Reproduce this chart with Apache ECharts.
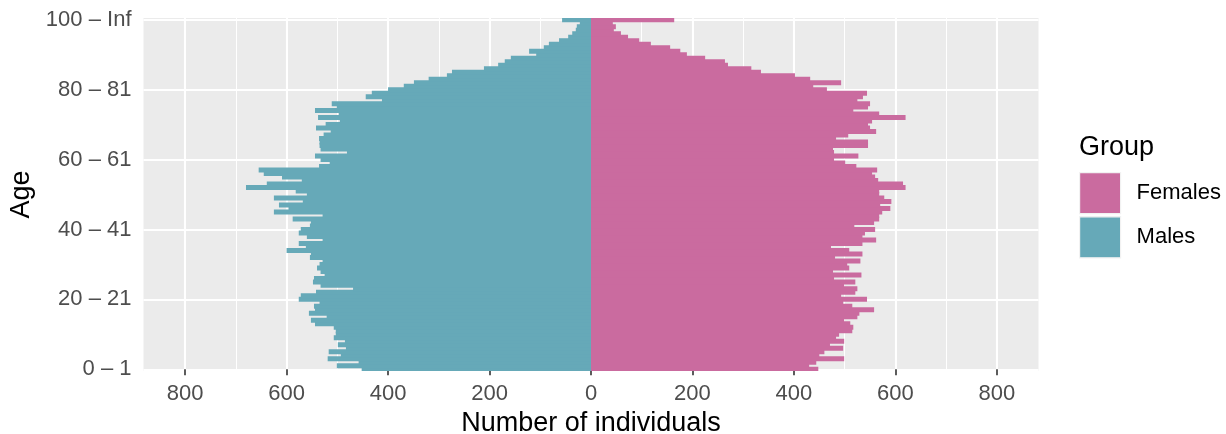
<!DOCTYPE html>
<html>
<head>
<meta charset="utf-8">
<script src="https://cdn.jsdelivr.net/npm/echarts@6/dist/echarts.min.js"></script>
<style>
html,body{margin:0;padding:0;background:#fff;}
#chart{width:1226px;height:434px;}
</style>
</head>
<body>
<div id="chart"></div>
<script>
// Age groups (bottom to top)
const ageGroups = [
  "0 – 1","1 – 2","2 – 3","3 – 4","4 – 5","5 – 6","6 – 7","7 – 8","8 – 9","9 – 10",
  "10 – 11","11 – 12","12 – 13","13 – 14","14 – 15","15 – 16","16 – 17","17 – 18","18 – 19","19 – 20",
  "20 – 21","21 – 22","22 – 23","23 – 24","24 – 25","25 – 26","26 – 27","27 – 28","28 – 29","29 – 30",
  "30 – 31","31 – 32","32 – 33","33 – 34","34 – 35","35 – 36","36 – 37","37 – 38","38 – 39","39 – 40",
  "40 – 41","41 – 42","42 – 43","43 – 44","44 – 45","45 – 46","46 – 47","47 – 48","48 – 49","49 – 50",
  "50 – 51","51 – 52","52 – 53","53 – 54","54 – 55","55 – 56","56 – 57","57 – 58","58 – 59","59 – 60",
  "60 – 61","61 – 62","62 – 63","63 – 64","64 – 65","65 – 66","66 – 67","67 – 68","68 – 69","69 – 70",
  "70 – 71","71 – 72","72 – 73","73 – 74","74 – 75","75 – 76","76 – 77","77 – 78","78 – 79","79 – 80",
  "80 – 81","81 – 82","82 – 83","83 – 84","84 – 85","85 – 86","86 – 87","87 – 88","88 – 89","89 – 90",
  "90 – 91","91 – 92","92 – 93","93 – 94","94 – 95","95 – 96","96 – 97","97 – 98","98 – 99","99 – 100",
  "100 – Inf"
];

// Number of males per age group
const males = [
  452, 501, 458, 519, 493, 517, 483, 499, 485, 507,
  503, 503, 507, 544, 552, 521, 556, 544, 546, 535,
  576, 572, 542, 469, 533, 548, 546, 525, 533, 540,
  535, 529, 554, 552, 600, 562, 576, 529, 560, 576,
  572, 554, 552, 588, 529, 625, 596, 615, 568, 625,
  560, 582, 680, 639, 570, 609, 645, 655, 536, 515,
  533, 544, 481, 533, 535, 535, 536, 527, 513, 542,
  523, 495, 538, 497, 544, 501, 511, 412, 444, 432,
  400, 369, 349, 320, 284, 274, 211, 183, 170, 158,
  108, 122, 93, 83, 63, 45, 37, 30, 28, 22,
  57
];

// Number of females per age group
const females = [
  448, 430, 444, 499, 450, 460, 497, 471, 499, 483,
  489, 515, 517, 511, 499, 525, 529, 558, 515, 497,
  544, 493, 521, 525, 499, 521, 479, 533, 477, 509,
  505, 531, 481, 535, 509, 473, 535, 562, 535, 540,
  560, 519, 558, 568, 568, 574, 590, 570, 592, 578,
  568, 568, 620, 615, 566, 560, 554, 564, 523, 501,
  479, 527, 479, 477, 546, 546, 483, 507, 562, 550,
  546, 554, 620, 568, 517, 546, 550, 525, 536, 544,
  465, 438, 493, 432, 402, 335, 316, 270, 264, 225,
  189, 176, 156, 118, 95, 73, 59, 45, 49, 43,
  164
];

const xMajorTicks = [-800, -600, -400, -200, 0, 200, 400, 600, 800];
const xMinorTicks = [-700, -500, -300, -100, 100, 300, 500, 700];
const yTickIndices = [0, 20, 40, 60, 80, 100];
const xLimit = 882;

const colFemale = '#CA6B9F';
const colMale = '#66A9B8';
const fontFam = '"Liberation Sans", Arial, Helvetica, sans-serif';

const chart = echarts.init(document.getElementById('chart'), null, {renderer: 'canvas'});

const option = {
  animation: false,
  backgroundColor: '#FFFFFF',
  textStyle: {fontFamily: fontFam},
  grid: {
    left: 143.5, right: 187.5, top: 18, bottom: 63,
    show: true, backgroundColor: '#EBEBEB', borderWidth: 0,
    containLabel: false, outerBoundsMode: 'none'
  },
  legend: {
    data: ['Females', 'Males'],
    orient: 'vertical',
    left: 1079, top: 172, padding: 0,
    itemWidth: 41, itemHeight: 41, itemGap: 2,
    icon: 'rect',
    itemStyle: {borderColor: '#F2F2F2', borderWidth: 1.2},
    textStyle: {fontSize: 22, color: '#000000', fontFamily: fontFam, padding: [0, 0, 0, 11]},
    selectedMode: false
  },
  graphic: [{
    type: 'text', left: 1079, top: 134,
    style: {text: 'Group', fontSize: 27, fill: '#000000', fontFamily: fontFam}
  }],
  xAxis: [{
    type: 'value', min: -xLimit, max: xLimit, position: 'bottom',
    name: 'Number of individuals', nameLocation: 'middle', nameGap: 37.5,
    nameTextStyle: {fontSize: 27, color: '#000000', fontFamily: fontFam},
    axisLine: {show: false},
    axisTick: {show: true, length: 6, customValues: xMajorTicks, lineStyle: {color: '#333333', width: 1.6}},
    axisLabel: {customValues: xMajorTicks, fontSize: 22, color: '#4D4D4D', margin: 12, fontFamily: fontFam,
      formatter: v => String(Math.abs(v))},
    splitLine: {show: true, lineStyle: {color: '#FFFFFF', width: 2.1}}
  }, {
    type: 'value', min: -xLimit, max: xLimit, position: 'top',
    axisLine: {show: false},
    axisTick: {show: false, customValues: xMinorTicks},
    axisLabel: {show: false},
    splitLine: {show: true, lineStyle: {color: '#FFFFFF', width: 1.05}}
  }],
  yAxis: [{
    type: 'category', data: ageGroups, boundaryGap: true,
    name: 'Age', nameLocation: 'middle', nameGap: 108.5, nameRotate: 90,
    nameTextStyle: {fontSize: 27, color: '#000000', fontFamily: fontFam},
    axisLine: {show: false},
    axisTick: {show: true, length: 6, interval: 19, alignWithLabel: true, lineStyle: {color: '#333333', width: 1.6}},
    axisLabel: {interval: 19, fontSize: 22, color: '#4D4D4D', margin: 12, fontFamily: fontFam},
    splitLine: {show: false}
  }, {
    type: 'value', min: -0.5, max: ageGroups.length - 0.5, position: 'right',
    axisLine: {show: false},
    axisTick: {show: false, customValues: yTickIndices},
    axisLabel: {show: false},
    splitLine: {show: true, lineStyle: {color: '#FFFFFF', width: 2.1}}
  }],
  series: [{
    name: 'Females', type: 'bar', stack: 'pop', xAxisIndex: 0, yAxisIndex: 0,
    data: females, barWidth: 5,
    itemStyle: {color: colFemale, borderWidth: 0}
  }, {
    name: 'Males', type: 'bar', stack: 'pop', xAxisIndex: 0, yAxisIndex: 0,
    data: males.map(v => -v), barWidth: 5,
    itemStyle: {color: colMale, borderWidth: 0}
  }]
};

chart.setOption(option);
</script>
</body>
</html>
